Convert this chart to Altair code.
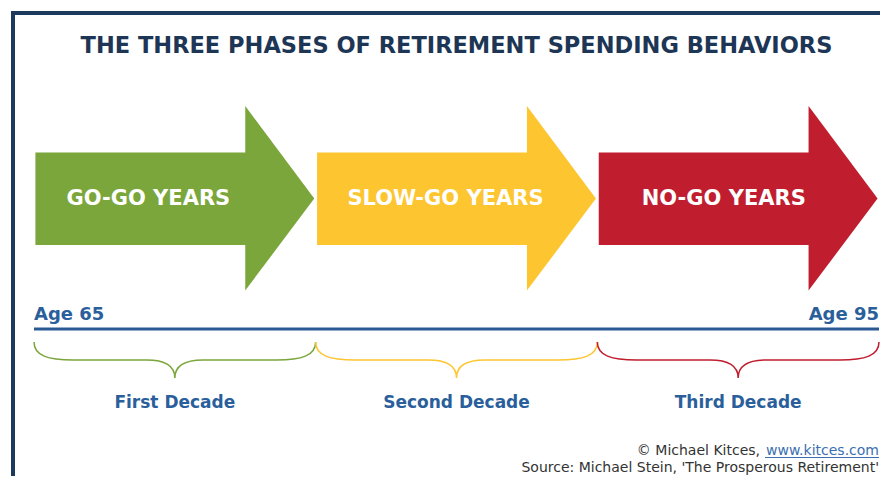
import altair as alt
import pandas as pd

# ---------------- data ----------------
title_text = "THE THREE PHASES OF RETIREMENT SPENDING BEHAVIORS"
phases = ["GO-GO YEARS", "SLOW-GO YEARS", "NO-GO YEARS"]
decades = ["First Decade", "Second Decade", "Third Decade"]
phase_start = [65, 75, 85]
phase_end = [75, 85, 95]
phase_colors = ["#7ba63b", "#fdc530", "#c01e2f"]
brace_colors = ["#8aa64c", "#f6c945", "#b8324a"]
age_ticks = [65, 95]
age_labels = ["Age 65", "Age 95"]
credit_owner = "© Michael Kitces,"
credit_link = "www.kitces.com"
credit_source = "Source: Michael Stein, 'The Prosperous Retirement'"

# ---------------- layout (styles / sizes) ----------------
W, H = 872, 468
PX_PER_YEAR = (879 - 34) / 30.0
X0 = 34 - 8  # pixel of age 65 inside the plot
x_domain = [65 - X0 / PX_PER_YEAR, 65 + (W - X0) / PX_PER_YEAR]
xs = alt.Scale(domain=x_domain, zero=False, nice=False)
ys = alt.Scale(domain=[8 + H, 8], zero=False, nice=False)

Y_TITLE, Y_HEAD_TOP, Y_BODY_TOP, Y_MID = 53, 106, 152.5, 198.5
Y_BODY_BOT, Y_HEAD_BOT, Y_AGE, Y_LINE = 245, 290.5, 320, 329
Y_BRACE, Y_DECADE, Y_CREDIT1, Y_CREDIT2 = 360, 408, 455, 472
INSET, BODY_LEN, TIP_LEN = 0.05, 7.5, 9.95
LABEL_OFF = [4.06, 4.61, 4.49]

NAVY = "#1b3a5c"
BLUE = "#2b5f9c"
FONT = "DejaVu Sans"

color_phase = alt.Color("phase:N", scale=alt.Scale(domain=phases, range=phase_colors), legend=None)
color_brace = alt.Color("phase:N", scale=alt.Scale(domain=phases, range=brace_colors), legend=None)


def X(f):
    return alt.X(f, type="quantitative", scale=xs, axis=None)


def Y(f):
    return alt.Y(f, type="quantitative", scale=ys, axis=None)


# arrows
bodies = pd.DataFrame({
    "phase": phases,
    "x": [s + INSET for s in phase_start],
    "x2": [s + BODY_LEN + 0.08 for s in phase_start],
    "y": [Y_BODY_TOP] * 3,
    "y2": [Y_BODY_BOT] * 3,
})
head_rows = []
for p, s in zip(phases, phase_start):
    head_rows.append({"phase": p, "x": s + BODY_LEN, "y": Y_HEAD_TOP, "y2": Y_HEAD_BOT})
    head_rows.append({"phase": p, "x": s + TIP_LEN, "y": Y_MID, "y2": Y_MID})
heads = pd.DataFrame(head_rows)

body_layer = alt.Chart(bodies).mark_rect().encode(
    x=X("x"), x2="x2", y=Y("y"), y2="y2", color=color_phase)
head_layer = alt.Chart(heads).mark_area(interpolate="linear", opacity=1).encode(
    x=X("x"), y=Y("y"), y2="y2", color=color_phase, detail="phase:N")

arrow_text = alt.Chart(pd.DataFrame({
    "label": phases,
    "x": [s + o for s, o in zip(phase_start, LABEL_OFF)],
    "y": [Y_MID] * 3,
})).mark_text(font=FONT, fontWeight="bold", fontSize=21, color="white",
              align="center", baseline="middle").encode(x=X("x"), y=Y("y"), text="label:N")

# timeline
timeline = alt.Chart(pd.DataFrame({"x": [age_ticks[0]], "x2": [age_ticks[1]], "y": [Y_LINE]})).mark_rule(
    color="#2a5a93", strokeWidth=3).encode(x=X("x"), x2="x2", y=Y("y"))

age_left = alt.Chart(pd.DataFrame({"x": [age_ticks[0]], "y": [Y_AGE], "t": [age_labels[0]]})).mark_text(
    font=FONT, fontWeight="bold", fontSize=18, color=BLUE, align="left", baseline="alphabetic"
).encode(x=X("x"), y=Y("y"), text="t:N")
age_right = alt.Chart(pd.DataFrame({"x": [age_ticks[1]], "y": [Y_AGE], "t": [age_labels[1]]})).mark_text(
    font=FONT, fontWeight="bold", fontSize=18, color=BLUE, align="right", baseline="alphabetic"
).encode(x=X("x"), y=Y("y"), text="t:N")

# braces
BRACE_PATH = ("M -1 -0.1275 C -1 -0.03 -0.9 0 -0.72 0 L -0.2 0 C -0.07 0 0 0.04 0 0.1275 "
              "C 0 0.04 0.07 0 0.2 0 L 0.72 0 C 0.9 0 1 -0.03 1 -0.1275")
brace_size = (10 * PX_PER_YEAR) ** 2
braces = alt.Chart(pd.DataFrame({
    "phase": phases,
    "x": [(s + e) / 2 for s, e in zip(phase_start, phase_end)],
    "y": [Y_BRACE] * 3,
})).mark_point(shape=BRACE_PATH, size=brace_size, filled=False, strokeWidth=1.5, opacity=1).encode(
    x=X("x"), y=Y("y"), color=color_brace)

decade_text = alt.Chart(pd.DataFrame({
    "label": decades,
    "x": [(s + e) / 2 for s, e in zip(phase_start, phase_end)],
    "y": [Y_DECADE] * 3,
})).mark_text(font=FONT, fontWeight="bold", fontSize=17, color=BLUE, align="center",
              baseline="alphabetic").encode(x=X("x"), y=Y("y"), text="label:N")

# title
title = alt.Chart(pd.DataFrame({"x": [(age_ticks[0] + age_ticks[1]) / 2], "y": [Y_TITLE], "t": [title_text]})).mark_text(
    font=FONT, fontWeight="bold", fontSize=22.5, color="#1e3655", align="center", baseline="alphabetic"
).encode(x=X("x"), y=Y("y"), text="t:N")

# credits
LINK_W = 114
credit_link_t = alt.Chart(pd.DataFrame({"x": [age_ticks[1]], "y": [Y_CREDIT1], "t": [credit_link]})).mark_text(
    font=FONT, fontSize=14, color="#3b6fb0", align="right", baseline="alphabetic"
).encode(x=X("x"), y=Y("y"), text="t:N")
credit_owner_t = alt.Chart(pd.DataFrame({"x": [age_ticks[1]], "y": [Y_CREDIT1], "t": [credit_owner]})).mark_text(
    font=FONT, fontSize=14, color="#333333", align="right", baseline="alphabetic", dx=-LINK_W - 5
).encode(x=X("x"), y=Y("y"), text="t:N")
credit_src_t = alt.Chart(pd.DataFrame({"x": [age_ticks[1]], "y": [Y_CREDIT2], "t": [credit_source]})).mark_text(
    font=FONT, fontSize=14, color="#333333", align="right", baseline="alphabetic"
).encode(x=X("x"), y=Y("y"), text="t:N")
RIGHT_PX = 879 - 8
underline = alt.Chart(pd.DataFrame({"a": [0]})).mark_rule(color="#3b6fb0", strokeWidth=1).encode(
    x=alt.value(RIGHT_PX - LINK_W), x2=alt.value(RIGHT_PX), y=alt.value(Y_CREDIT1 - 8 + 2.5))

# frame
frame_top = alt.Chart(pd.DataFrame({"a": [0]})).mark_rule(color=NAVY, strokeWidth=4).encode(
    x=alt.value(3), x2=alt.value(W), y=alt.value(5))
frame_left = alt.Chart(pd.DataFrame({"a": [0]})).mark_rule(color=NAVY, strokeWidth=4).encode(
    x=alt.value(5), y=alt.value(3), y2=alt.value(H))

chart = alt.layer(
    frame_top, frame_left, title,
    body_layer, head_layer, arrow_text,
    timeline, age_left, age_right,
    braces, decade_text,
    credit_link_t, credit_owner_t, credit_src_t, underline,
).properties(
    width=W, height=H, padding=0, background="white",
    autosize=alt.AutoSizeParams(type="none"),
).configure_view(stroke=None)

chart.save("out.html", embed_options={"renderer": "svg", "actions": False})
